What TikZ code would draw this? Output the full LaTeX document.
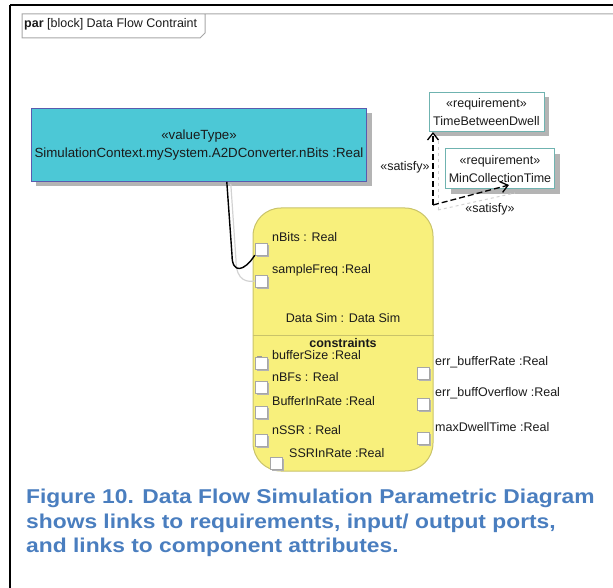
\documentclass[tikz,border=0pt]{standalone}
\usepackage{fontspec}
\setmainfont{Liberation Sans}
\usetikzlibrary{arrows.meta,calc,shadows}
\definecolor{cyanfill}{HTML}{4CC8D6}
\definecolor{cyanborder}{HTML}{5A5AAE}
\definecolor{yellowfill}{HTML}{F8F07C}
\definecolor{yellowborder}{HTML}{C9C36A}
\definecolor{reqborder}{HTML}{6FB3B0}
\definecolor{shadowgray}{HTML}{B4B4B4}
\definecolor{capblue}{HTML}{4A7EBF}
\definecolor{txt}{HTML}{1A1A1A}
\begin{document}
\begin{tikzpicture}[x=1pt,y=-1pt,
  every node/.style={text=txt},
  small/.style={font=\fontsize{12.5}{17.5}\selectfont},
  vtbox/.style={draw=cyanborder, fill=cyanfill, line width=0.8pt, align=center, small,
    drop shadow={shadow xshift=5pt, shadow yshift=-5pt, fill=shadowgray, opacity=1}},
  reqbox/.style={draw=reqborder, fill=white, line width=1pt, align=center, small,
    drop shadow={shadow xshift=5pt, shadow yshift=-5pt, fill=shadowgray, opacity=1}},
  portbox/.style={draw=gray!70, fill=white, minimum size=12pt, inner sep=0pt,
    drop shadow={shadow xshift=1.5pt, shadow yshift=-1.5pt, fill=gray!60, opacity=1}},
  lbl/.style={small, anchor=west, inner sep=0pt},
  satarrow/.style={line width=1.3pt, dash pattern=on 6pt off 3pt, -{Straight Barb[length=7pt,width=11pt]}},
  shadowline/.style={gray!35, line width=1pt, dashed}
]
\useasboundingbox (0,0) rectangle (613,588);
% outer frame
\draw[line width=1.5pt] (10,5) -- (613,5);
\draw[line width=1.5pt] (10,5) -- (10,588);
% diagram frame and tab
\node[anchor=north west, inner xsep=2pt, inner ysep=4pt, font=\fontsize{12.5}{14}\selectfont] (title) at (22,14) {\textbf{par} [block] Data Flow Contraint};
\draw[gray!70, line width=1pt] (613,14) -- (22,14) -- (22,38) -- (200,38) -- (205,33) -- (205,14);

% valueType box
\node[vtbox, minimum width=327pt, minimum height=73pt, font=\fontsize{13.3}{17.5}\selectfont] (vt) at (199,145)
  {«valueType»\\SimulationContext.mySystem.A2DConverter.nBits :Real};

% requirement boxes
\node[reqbox, minimum width=115pt, minimum height=39pt] (req1) at (486.5,112) {«requirement»\\TimeBetweenDwell};
\node[reqbox, minimum width=108pt, minimum height=40pt] (req2) at (500,169) {«requirement»\\MinCollectionTime};

% constraint block
\node[draw=yellowborder, fill=yellowfill, line width=1pt, rounded corners=28pt,
  minimum width=180pt, minimum height=263pt] (blk) at (343,339.5) {};
\draw[yellowborder, line width=1pt] (blk.west |- 0,335) -- (blk.east |- 0,335);
\node[small] (dsname) at (343,318) {Data Sim : Data Sim};
\node[small, font=\fontsize{12.5}{14}\selectfont\bfseries] (cons) at (343,343) {constraints};
\draw[gray!80, line width=1pt] (257,356) -- (262,356);

% ports
\node[portbox] (pnBits) at (261,249) {};
\node[portbox] (pSF) at (261,281) {};
\node[portbox] (pBS) at (261,363) {};
\node[portbox] (pBF) at (261,387) {};
\node[portbox] (pBIR) at (261,412) {};
\node[portbox] (pnSSR) at (261,440) {};
\node[portbox] (pSSRIR) at (276,463) {};
\node[portbox] (pEBR) at (423,373) {};
\node[portbox] (pEBO) at (423,404) {};
\node[portbox] (pMDT) at (423,438) {};

% port labels
\node[lbl] (lnBits) at (272,237) {nBits : Real};
\node[lbl] (lSF) at (272,270) {sampleFreq :Real};
\node[lbl] (lBS) at (272,355) {bufferSize :Real};
\node[lbl] (lBF) at (272,377) {nBFs : Real};
\node[lbl] (lBIR) at (272,401) {BufferInRate :Real};
\node[lbl] (lnSSR) at (272,430) {nSSR : Real};
\node[lbl] (lSSRIR) at (289,453) {SSRInRate :Real};
\node[lbl] (lEBR) at (435,362) {err\_bufferRate :Real};
\node[lbl] (lEBO) at (435,393) {err\_buffOverflow :Real};
\node[lbl] (lMDT) at (435,427) {maxDwellTime :Real};

% binding connector
\coordinate (c1) at ($(vt.south west)+(196,0)$);
\coordinate (c1s) at ($(vt.south west)+(200,2)$);
\draw[gray!35, line width=1.2pt] (c1s) -- (236,260) .. controls (236,282) and (248,282) .. (pSF.west);
\draw[black, line width=1.4pt] (c1) -- (232,255) .. controls (232,274) and (244,272) .. (pnBits.south west);

% satisfy dependencies
\coordinate (sc) at (433,205);
\coordinate (scs) at (438,210);
\coordinate (s2) at (509,185);
\draw[shadowline] (scs) -- (438,140);
\draw[shadowline] (scs) -- (515,193);
\draw[satarrow] (sc) -- (sc |- req1.south);
\draw[satarrow] (sc) -- (s2);
\node[small] (sat1) at (405,167) {«satisfy»};
\node[small] (sat2) at (490,209) {«satisfy»};

% caption
\node[anchor=north west, align=left, inner sep=0pt, text=capblue, xscale=1.14,
  font=\fontsize{20}{24.5}\selectfont\bfseries] (cap) at (26,489)
  {Figure 10. Data Flow Simulation Parametric Diagram\\
   shows links to requirements, input/ output ports,\\
   and links to component attributes.};
\end{tikzpicture}
\end{document}
